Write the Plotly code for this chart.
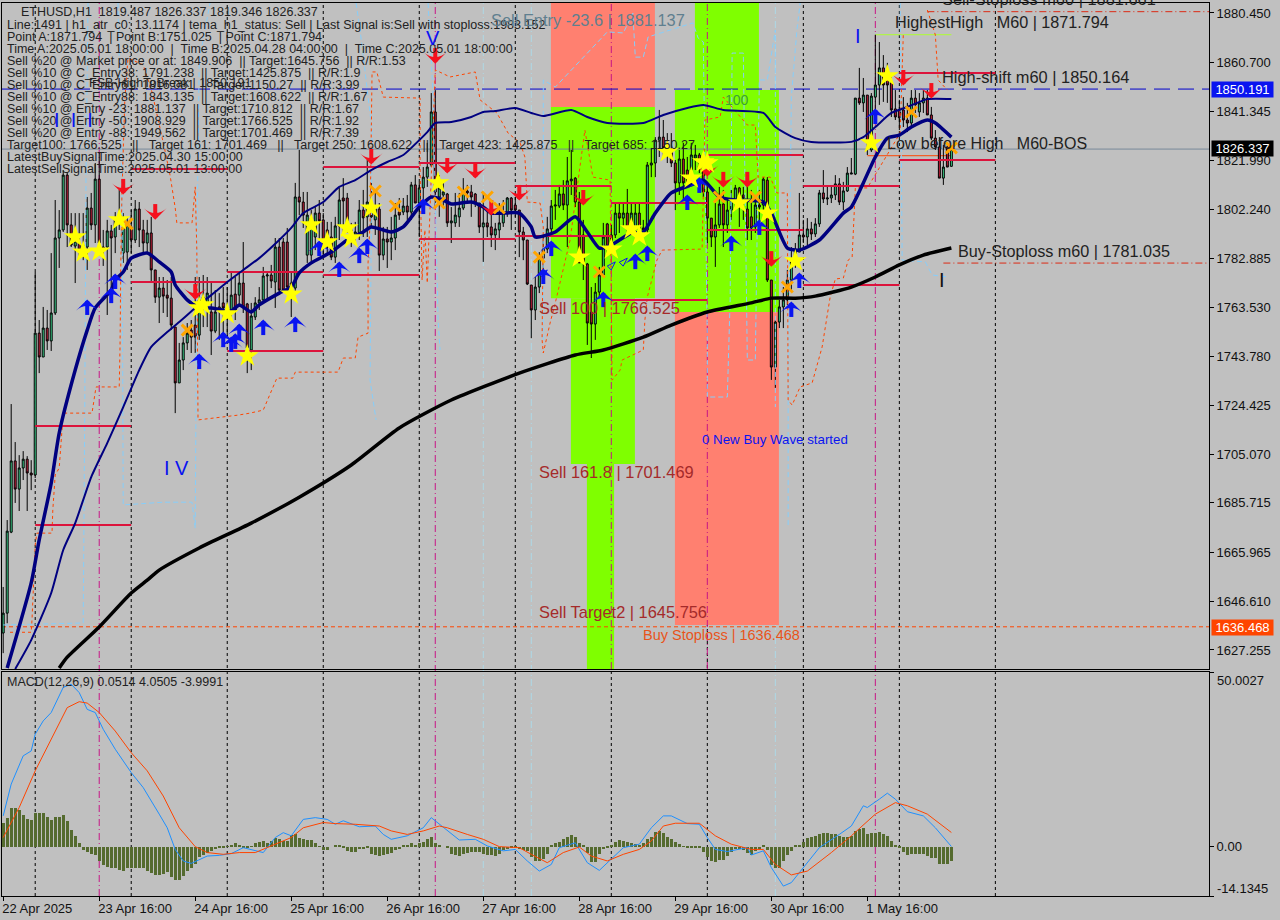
import plotly.graph_objects as go

# candles, one per hour, oldest first
opens = [1634.0,1641.9,1674.1,1702.4,1691.2,1699.6,1703.1,1697.6,1696.8,1753.2,
1743.7,1755.2,1750.1,1761.2,1791.0,1794.2,1816.0,1796.2,1787.8,1789.0,
1787.4,1787.4,1802.9,1796.2,1814.4,1787.4,1787.4,1793.8,1791.4,1799.0,
1785.0,1785.4,1795.4,1790.2,1802.5,1794.2,1789.0,1793.0,1778.3,1767.5,
1771.1,1768.3,1767.1,1755.6,1733.4,1742.5,1749.3,1754.4,1756.4,1752.4,
1767.5,1765.2,1761.6,1754.0,1763.6,1765.2,1763.2,1762.4,1768.7,1768.3,
1773.1,1764.8,1746.5,1759.6,1765.2,1766.4,1775.9,1776.3,1773.5,1787.4,
1789.4,1789.4,1773.1,1771.1,1807.3,1805.3,1784.2,1784.2,1791.4,1800.9,
1798.2,1794.2,1791.4,1783.4,1795.8,1806.9,1806.9,1794.2,1791.4,1793.0,
1802.1,1799.4,1802.9,1798.2,1802.5,1784.2,1790.6,1789.4,1791.0,1801.3,
1801.3,1803.7,1801.3,1812.1,1804.9,1810.9,1815.2,1820.0,1841.1,1807.3,
1808.1,1808.5,1797.0,1797.0,1799.4,1802.9,1809.7,1809.3,1808.5,1804.9,
1795.4,1797.0,1795.4,1792.2,1794.2,1797.0,1800.9,1806.9,1804.1,1802.1,
1793.4,1790.2,1772.3,1762.4,1771.5,1783.0,1786.6,1794.6,1803.7,1803.7,
1808.5,1804.1,1813.7,1814.8,1805.3,1792.2,1780.7,1761.6,1756.8,1769.5,
1776.3,1796.6,1792.2,1792.2,1800.9,1798.9,1800.9,1795.4,1795.4,1800.9,
1795.0,1794.2,1820.0,1820.8,1829.9,1831.1,1826.8,1825.2,1820.8,1812.9,
1822.4,1818.0,1818.0,1822.8,1824.0,1820.0,1809.3,1798.9,1791.4,1796.2,
1804.5,1796.2,1802.1,1806.1,1810.9,1808.1,1802.5,1799.4,1795.4,1804.1,
1804.1,1814.0,1774.3,1739.7,1757.6,1763.6,1766.4,1774.3,1781.5,1785.4,
1792.2,1791.4,1794.6,1792.6,1796.6,1808.9,1806.5,1806.9,1808.1,1812.5,
1805.3,1809.7,1816.4,1816.4,1846.6,1844.7,1847.8,1826.0,1847.0,1851.8,
1858.6,1857.8,1853.0,1842.3,1841.9,1841.9,1837.9,1836.7,1846.6,1841.1,
1844.7,1846.6,1839.9,1830.7,1827.2,1814.8,1827.2,1819.487]
highs = [1652.3,1678.9,1725.0,1709.9,1704.7,1706.3,1704.3,1702.7,1777.5,1758.4,
1763.6,1762.4,1785.0,1806.1,1802.1,1818.0,1817.2,1800.9,1800.9,1800.9,
1800.9,1807.3,1808.9,1820.8,1824.8,1794.2,1798.2,1796.2,1801.3,1810.1,
1800.9,1798.9,1802.1,1806.1,1805.3,1798.2,1798.2,1799.4,1778.3,1775.5,
1775.5,1774.3,1775.5,1755.6,1749.3,1751.6,1757.2,1758.4,1775.5,1775.5,
1776.3,1775.5,1773.1,1770.3,1769.1,1771.5,1771.5,1777.1,1775.5,1777.1,
1789.4,1765.2,1765.2,1767.5,1771.5,1779.5,1777.1,1780.3,1791.0,1791.0,
1791.0,1795.0,1777.1,1812.9,1826.0,1809.3,1809.3,1802.1,1803.3,1806.1,
1800.9,1797.4,1797.4,1799.4,1810.9,1814.8,1808.9,1797.0,1797.4,1806.1,
1810.1,1822.0,1812.9,1808.9,1804.9,1795.4,1795.4,1799.4,1804.9,1806.9,
1806.9,1808.1,1813.3,1816.0,1813.3,1819.2,1828.8,1848.6,1849.8,1816.0,
1812.9,1808.9,1803.3,1808.9,1808.9,1814.8,1812.1,1812.1,1808.9,1804.9,
1809.3,1802.1,1800.9,1797.0,1804.9,1806.1,1807.3,1807.3,1807.3,1802.1,
1795.4,1790.2,1772.3,1775.5,1785.4,1791.4,1799.4,1806.1,1810.1,1812.1,
1814.0,1823.2,1826.0,1815.2,1809.3,1798.2,1781.1,1771.5,1773.1,1779.5,
1797.0,1797.0,1796.2,1804.9,1804.9,1804.9,1810.5,1804.9,1804.9,1804.9,
1798.2,1821.2,1826.8,1831.1,1841.9,1837.9,1832.7,1832.7,1822.0,1826.0,
1828.8,1823.2,1828.8,1828.0,1824.8,1823.2,1812.1,1798.9,1804.9,1811.3,
1810.1,1806.1,1810.1,1812.1,1811.3,1811.3,1812.9,1810.1,1807.3,1810.1,
1815.2,1815.2,1774.3,1758.4,1766.4,1771.5,1778.3,1787.4,1789.0,1808.9,
1798.2,1798.9,1797.4,1798.9,1810.1,1818.0,1811.3,1811.3,1816.0,1814.8,
1813.3,1819.2,1822.8,1846.6,1858.6,1854.6,1847.8,1848.6,1871.794,1868.9,
1863.7,1860.6,1856.6,1849.8,1845.9,1847.0,1844.7,1849.8,1849.8,1848.6,
1849.8,1849.8,1843.1,1833.9,1831.1,1828.0,1828.8,1826.337]
lows = [1626.0,1637.9,1673.7,1685.7,1682.5,1694.8,1682.5,1690.8,1695.6,1737.3,
1743.7,1746.5,1746.1,1760.4,1779.1,1793.4,1787.4,1787.4,1773.1,1783.4,
1782.2,1778.3,1794.2,1789.0,1785.0,1779.9,1760.4,1769.1,1785.0,1794.2,
1781.1,1778.3,1785.0,1789.0,1787.4,1785.0,1785.0,1773.1,1765.2,1757.2,
1761.2,1759.6,1754.4,1721.4,1733.4,1738.5,1746.5,1745.3,1745.3,1750.5,
1755.6,1755.6,1744.5,1753.2,1750.5,1751.6,1751.6,1759.6,1758.4,1763.6,
1761.2,1737.3,1738.5,1758.4,1762.4,1765.2,1766.4,1771.1,1763.2,1769.1,
1770.3,1769.1,1759.6,1768.3,1800.1,1795.0,1781.1,1781.1,1786.2,1790.2,
1784.2,1784.2,1782.2,1781.1,1790.2,1793.0,1793.0,1787.4,1788.2,1790.2,
1791.4,1791.4,1795.4,1792.2,1777.9,1782.2,1779.1,1782.2,1786.2,1798.2,
1800.1,1798.2,1798.2,1804.9,1791.4,1804.9,1811.3,1819.2,1803.3,1799.4,
1803.3,1795.4,1789.0,1795.4,1795.4,1802.1,1804.9,1799.4,1803.3,1793.0,
1781.5,1791.4,1787.4,1786.2,1790.2,1795.4,1799.4,1794.2,1799.4,1783.4,
1782.2,1772.3,1751.2,1758.4,1769.1,1775.5,1785.0,1791.4,1798.2,1802.9,
1802.1,1787.4,1808.1,1803.3,1781.1,1774.3,1748.5,1743.3,1750.5,1767.5,
1775.5,1785.0,1786.2,1791.0,1793.0,1795.4,1793.0,1794.2,1793.0,1793.0,
1791.4,1793.0,1815.2,1815.2,1823.2,1823.2,1820.8,1819.2,1802.1,1808.1,
1806.1,1810.9,1814.0,1818.0,1816.8,1807.3,1789.0,1787.4,1779.5,1795.0,
1787.4,1793.0,1798.2,1802.1,1795.4,1798.2,1790.2,1790.2,1793.0,1797.4,
1800.9,1773.5,1734.6,1731.4,1755.2,1755.2,1764.4,1770.3,1779.1,1785.4,
1789.0,1788.2,1790.2,1791.4,1795.4,1804.9,1804.1,1804.9,1806.1,1804.1,
1802.1,1809.3,1816.4,1816.0,1843.9,1841.1,1824.0,1825.2,1840.7,1843.9,
1845.1,1844.7,1839.1,1837.9,1833.9,1835.1,1833.1,1835.1,1840.7,1839.1,
1840.7,1839.9,1829.9,1826.0,1814.8,1812.1,1819.2,1819.346]
closes = [1641.9,1674.5,1702.4,1691.2,1699.6,1703.1,1697.6,1696.8,1753.2,1743.7,
1755.2,1750.1,1761.2,1791.0,1794.2,1816.0,1796.2,1788.2,1789.8,1786.2,
1788.2,1802.9,1796.2,1814.4,1789.0,1786.2,1793.8,1791.0,1798.2,1797.4,
1795.4,1796.2,1790.2,1802.5,1794.2,1789.0,1793.0,1778.3,1767.5,1771.1,
1767.9,1767.1,1756.4,1733.4,1742.5,1749.3,1753.2,1751.6,1751.6,1766.4,
1766.4,1769.1,1754.0,1761.6,1762.4,1763.2,1762.0,1768.3,1762.4,1773.1,
1763.6,1747.3,1760.0,1765.2,1766.4,1775.9,1776.3,1773.9,1787.4,1770.3,
1770.3,1771.5,1771.5,1807.3,1805.3,1800.1,1800.1,1798.9,1800.9,1797.8,
1787.0,1787.4,1783.4,1795.8,1806.1,1805.7,1794.2,1791.4,1793.4,1802.1,
1799.0,1805.3,1799.4,1802.9,1784.2,1790.6,1789.4,1791.0,1800.1,1800.1,
1803.7,1801.3,1812.1,1804.9,1810.9,1815.2,1819.2,1841.1,1809.3,1810.9,
1809.3,1797.0,1797.8,1800.1,1802.9,1809.3,1808.9,1807.3,1804.9,1795.4,
1797.0,1795.4,1792.2,1794.6,1797.0,1800.9,1806.9,1802.1,1802.1,1793.4,
1790.2,1772.7,1762.4,1771.5,1783.0,1786.6,1794.6,1803.7,1804.1,1808.5,
1804.1,1813.7,1814.4,1805.3,1781.1,1781.1,1757.2,1756.8,1769.5,1776.3,
1791.4,1787.4,1787.4,1800.9,1798.9,1800.9,1795.0,1800.9,1800.9,1794.2,
1794.2,1820.0,1820.8,1829.9,1831.1,1826.8,1826.0,1820.8,1812.9,1822.4,
1812.9,1812.9,1824.0,1824.0,1820.8,1809.3,1798.9,1791.4,1796.2,1804.5,
1796.2,1802.1,1806.1,1810.9,1806.9,1806.9,1795.0,1795.0,1804.1,1803.3,
1814.4,1774.3,1739.7,1757.6,1763.6,1766.4,1774.3,1781.5,1786.2,1792.2,
1791.4,1794.6,1792.6,1796.6,1808.9,1806.5,1806.9,1808.1,1812.5,1805.3,
1809.7,1816.8,1816.8,1846.6,1844.7,1847.8,1828.8,1847.4,1851.8,1858.6,
1851.8,1851.8,1841.9,1839.1,1838.7,1837.9,1836.7,1846.6,1843.9,1844.7,
1846.6,1839.9,1830.7,1827.2,1814.8,1819.2,1819.2,1826.337]
bars = list(range(len(closes)))

# moving averages, read at the bends
fast_x = [1,7,9,12,14,18,21,23,27,28,30,32,36,39,42,43,46,49,52,57,59,62,64,69,72,74,77,82,86,90,92,97,100,104,107,110,112,117,120,122,125,129,132,133,138,143,146,149,152,157,160,163,167,172,175,179,183,190,192,196,199,204,210,212,215,218,221,224,227,231,233,237]
fast_y = [1620.1,1653.9,1671.0,1693.6,1713.5,1738.5,1754.4,1763.2,1770.3,1774.3,1777.5,1783.0,1785.0,1781.5,1777.5,1772.3,1766.4,1763.2,1763.2,1762.0,1764.4,1761.6,1764.4,1769.1,1771.5,1777.1,1781.1,1785.4,1790.2,1793.4,1795.4,1793.4,1795.4,1803.3,1807.3,1806.1,1804.5,1805.3,1803.3,1800.9,1800.9,1800.9,1795.4,1791.4,1793.4,1799.4,1793.4,1787.0,1788.2,1793.0,1793.4,1800.9,1808.9,1812.1,1814.0,1807.3,1806.1,1805.3,1800.9,1787.0,1786.2,1790.2,1800.9,1803.3,1812.9,1823.2,1830.7,1831.9,1835.1,1837.9,1836.7,1831.1]
mid_x = [3,7,12,15,18,22,26,30,34,37,41,44,48,52,56,60,64,69,72,75,80,84,88,92,96,100,104,106,108,112,117,120,123,128,132,135,142,146,151,160,165,171,175,180,190,193,198,202,212,215,218,222,226,231,237]
mid_y = [1619.7,1631.2,1649.9,1667.0,1677.7,1696.0,1709.5,1723.8,1738.5,1747.7,1753.6,1757.6,1763.2,1768.3,1773.5,1778.3,1783.0,1790.2,1795.0,1800.9,1805.3,1811.3,1814.0,1818.0,1821.2,1824.0,1829.9,1833.1,1836.7,1837.1,1839.1,1841.1,1841.5,1842.7,1840.7,1839.5,1841.9,1839.1,1836.7,1836.7,1839.9,1842.7,1843.9,1841.9,1840.7,1835.1,1830.7,1829.2,1829.2,1831.1,1835.1,1840.7,1843.1,1846.2,1846.2]
slow_x = [14,16,24,32,36,39,49,62,74,87,99,112,129,143,150,160,167,176,187,192,198,203,212,218,224,230,237]
slow_y = [1620.1,1624.4,1636.4,1649.9,1655.0,1659.0,1667.8,1677.7,1688.0,1700.8,1715.5,1726.6,1737.3,1744.5,1746.5,1751.6,1756.4,1761.6,1765.2,1767.1,1767.1,1767.9,1771.5,1775.5,1780.3,1784.2,1787.0]

# step channels, dashed
orange_x = [1.7,7,7.2,8,8.4,12.2,12.4,13,14,14.7,15,22.2,23.2,29,29.2,29.4,29.7,30.4,31.2,35,37.2,40.4,41.7,43,43.4,47.2,48,48.4,48.7,58.7,61.7,65,68.4,72.4,73,83.7,85,88,88.7,91.2,91.2,91.7,92,92.2,93.4,95,104.2,104.2,104.7,105.4,106,108,111.7,118,119.2,123.4,126.2,129.2,130.4,131,134.2,135,134.7,135,136.7,138,141.7,145.4,147.4,151.7,152.2,154.2,154.7,157.2,160,160.4,161,163.4,164.7,174.7,175.4,179.2,180,186,188,188.7,191.7,193.4,196,196.2,197.2,199.2,202.2,204.7,206.7,208,210,211.2,212.2,213,216,224.2,225,None,231,233,233.7,236]
orange_y = [1634.3,1634.3,1639.2,1669.0,1673.7,1673.7,1682.9,1696.8,1699.6,1714.7,1721.4,1721.4,1731.8,1731.8,1747.7,1781.1,1810.1,1845.9,1862.5,1859.8,1849.0,1826.0,1816.0,1802.9,1797.0,1797.0,1811.3,1786.2,1718.7,1720.6,1721.4,1722.6,1735.3,1735.3,1737.7,1737.7,1743.3,1743.3,1751.6,1753.2,1781.1,1797.0,1829.9,1857.0,1857.0,1847.0,1846.6,1819.2,1774.3,1794.2,1773.1,1857.8,1855.0,1857.0,1845.9,1840.7,1832.7,1828.8,1823.2,1805.3,1804.9,1795.4,1750.5,1745.3,1757.2,1765.2,1790.2,1833.9,1815.2,1814.0,1734.5,1738.5,1742.5,1744.5,1746.5,1758.4,1767.5,1782.2,1786.2,1786.6,1837.9,1839.1,1847.0,1835.9,1835.9,1815.2,1815.2,1808.9,1808.9,1726.6,1724.6,1731.8,1733.4,1747.7,1767.5,1774.7,1775.1,1782.2,1783.4,1810.9,1810.9,1832.7,1872.5,None,1881.6,1871.7,1853.8,1849.8]
sky_x = [0,20,20.4,20.7,21.2,None,28.7,29.7,30,36.7,40,47.2,48,48.4,48.7,49,51.7,None,88.2,89.2,92.2,91.7,93.2,None,106.2,107.4,108.7,109.2,None,135,135,138,151,155,157.4,158,160,161.2,172.4,173.7,175,176,176,181,181.7,182.2,185,186,188,189,191,193,193,None,196.2,196.2,197,198.4,199.2,None,224.2,224.7,230.5,232.2,236.2]
sky_y = [1637.2,1638.0,1726.6,1816.8,1884.4,None,1884.4,1810.1,1684.9,1685.7,1686.0,1686.0,1675.7,1786.2,1830.0,1861.7,1884.4,None,1884.4,1873.7,1833.9,1734.5,1718.7,None,1884.4,1849.8,1758.4,1746.5,None,1750.5,1853.8,1851.0,1872.9,1872.5,1880.4,1862.9,1862.9,1870.9,1876.5,1870.5,1868.9,1750.5,1727.8,1727.8,1766.4,1864.5,1864.5,1742.5,1742.5,1853.8,1853.8,1873.7,1723.8,None,1676.9,1723.8,1847.0,1873.7,1884.4,None,1884.4,1782.2,1781.5,1776.3,1775.5]

# crimson level segments, one per day block
seg_start = [8,8,32,32,56,56,80,80,104,104,128,128,152,152,176,176,200,200,224,224]
seg_end = [32,32,56,56,80,80,104,104,128,128,152,152,176,176,200,200,224,224,248,248]
seg_price = [1716.3,1676.9,1818.4,1773.5,1777.5,1746.1,1819.2,1776.3,1820.8,1790.6,1811.7,1791.8,1804.9,1766.4,1824.0,1794.2,1811.7,1772.3,1856.6,1822.0]

# signal markers
star_x = [18,20,24,29,49,50,56,61,72,77,81,86,87,92,108.7,144,152,157,159,166,172,175,176,184,191,198,221,217]
star_y = [1791.4,1785.4,1785.8,1798.2,1763.2,1764.4,1760.8,1744.1,1768.7,1796.2,1789.4,1795.0,1791.0,1802.9,1812.9,1783.4,1786.6,1794.6,1791.8,1825.2,1814.8,1821.2,1820.8,1804.9,1800.9,1781.9,1855.4,1828.8]
cross_x = [31,46,93,98,109,115,121,124,134,149,179,188,196,227,237]
cross_y = [1796.6,1754.4,1809.7,1803.7,1804.9,1809.3,1807.3,1802.9,1783.4,1777.5,1807.3,1807.3,1771.5,1841.1,1826.8]
up_x = [21,27,28,49,55,57,58,59,65,73,79,84,89,91,105,137,135,150,158,161,171,174,182,189,197,199,218]
up_y = [1764.0,1768.7,1774.3,1742.5,1751.2,1749.3,1750.5,1754.4,1756.0,1757.2,1787.4,1779.1,1784.6,1788.2,1804.1,1787.4,1776.3,1767.1,1782.2,1785.4,1805.7,1812.5,1789.4,1795.8,1763.2,1774.7,1839.9]
hollow_x = [136,153,156]
hollow_y = [1778.3,1781.5,1783.0]
down_x = [30,38,48,92,108,111,118,122,129,145,176,180,186,192,225,232]
down_y = [1810.9,1800.9,1769.1,1822.8,1862.9,1819.2,1817.2,1802.5,1808.5,1806.5,1818.0,1813.7,1813.7,1782.2,1854.2,1849.0]

# price levels and coloured zones
fib_high = 1850.191
last_price = 1826.337
buy_stop = 1636.468
sell_stop = 1880.95
buy_stop_m60 = 1781.035
highest_high = 1871.794
low_before_high = 1823.7
salmon_zones = [(136.9, 162.9, 1843.1, 1884.4), (167.9, 193.9, 1637.2, 1761.6)]
green_zones = [(136.9, 162.9, 1767.1, 1843.1), (141.9, 157.9, 1701.2, 1767.1), (145.9, 152.7, 1619.7, 1701.2),
               (172.9, 188.9, 1849.8, 1884.4), (167.9, 193.9, 1761.6, 1849.8)]

# axis ticks
day_lines = [8, 32, 56, 80, 104, 128, 152, 176, 200, 224, 248]
magenta_both = [24, 108, 218]
magenta_main = [152, 176]
sky_both = [120, 132, 193]
price_ticks = [1880.45,1860.70,1841.345,1821.99,1802.24,1782.885,1763.53,1743.78,1724.425,1705.07,1685.715,1665.965,1646.61,1627.255]
price_labels = ["1880.450","1860.700","1841.345","1821.990","1802.240","1782.885","1763.530","1743.780","1724.425","1705.070","1685.715","1665.965","1646.610","1627.255"]
time_ticks = [0,24,48,72,96,120,144,168,192,216]
time_labels = ["22 Apr 2025","23 Apr 16:00","24 Apr 16:00","25 Apr 16:00","26 Apr 16:00","27 Apr 16:00","28 Apr 16:00","29 Apr 16:00","30 Apr 16:00","1 May 16:00"]

# MACD panel
macd_hist = [6.9,8.3,11.0,11.0,10.4,9.1,7.8,7.6,9.6,9.6,
9.6,8.5,7.5,8.6,8.6,9.0,7.2,4.7,3.1,1.1,
-1.0,-1.5,-2.2,-2.4,-4.1,-5.3,-5.8,-6.2,-6.2,-6.7,
-7.0,-6.2,-6.0,-6.0,-6.2,-6.2,-7.0,-7.6,-8.0,-8.0,
-7.9,-7.4,-8.7,-9.6,-9.6,-8.4,-7.0,-6.0,-4.9,-2.9,
-2.5,-1.7,-1.2,-0.8,-0.5,-0.3,-0.1,0.5,1.0,0.4,
-0.3,-0.3,0.05,0.9,1.4,1.6,1.0,1.6,2.6,2.1,
1.6,1.6,3.2,3.5,2.4,2.1,1.9,1.8,1.0,-0.1,
-1.0,-1.0,0.0,0.5,0.2,-0.3,-1.2,-1.5,-1.4,-0.8,
-0.6,-0.3,-2.2,-2.4,-2.7,-2.5,-2.2,-1.7,-1.1,-0.8,
0.2,0.2,1.1,0.5,1.1,1.4,2.1,2.9,1.1,0.5,
0.0,-0.3,-2.0,-2.5,-2.7,-2.2,-1.7,-1.4,-1.5,-1.5,
-2.0,-2.4,-2.5,-2.7,-2.2,-1.1,-0.8,-0.5,-0.3,-0.6,
-1.0,-1.2,-3.0,-4.1,-4.1,-3.6,-2.2,0.2,0.9,1.4,
2.3,2.9,3.2,2.8,1.1,0.2,-1.7,-4.3,-4.3,-2.0,
-0.8,-0.3,0.2,1.4,1.9,1.6,1.4,1.1,0.7,0.2,
0.9,2.1,2.9,4.2,4.4,3.8,2.9,2.1,1.4,0.7,
0.05,-0.5,-0.3,-0.3,-0.5,-1.5,-3.0,-4.1,-4.3,-3.8,
-3.8,-2.7,-1.4,-0.8,-0.6,-1.0,-1.7,-2.4,-1.2,-0.8,
0.2,-1.0,-5.3,-6.0,-6.0,-4.1,-2.5,-1.2,0.5,0.5,
1.3,2.6,2.9,3.1,3.5,3.8,3.8,3.5,3.5,3.1,
2.9,2.9,3.1,4.5,5.0,5.3,3.5,3.8,4.0,4.2,
3.5,3.1,1.6,0.2,-0.4,-1.5,-2.4,-2.0,-2.2,-2.2,
-2.0,-2.7,-3.3,-3.3,-4.9,-4.9,-4.9,-3.9991]
macd_x = [0,2,5,7,8,10,12,15,17,19,21,23,25,28,32,35,39,41,43,45,47,51,54,57,60,65,68,70,72,75,78,81,83,85,89,93,95,97,101,105,107,111,114,118,121,125,128,131,134,137,139,143,146,149,151,155,159,162,165,167,171,174,176,178,181,186,187,190,192,195,197,200,204,209,212,215,216,219,221,223,226,230,233,237]
macd_y = [8.8,17.9,26.0,27.4,32.2,36.0,38.4,45.6,46.5,44.1,39.3,38.4,33.6,27.9,21.2,16.9,9.3,5.4,-0.8,-4.1,-4.8,-2.7,-2.5,-2.0,-0.3,-1.7,2.6,4.0,3.1,7.8,8.3,7.8,6.4,7.4,5.7,5.9,3.5,2.1,3.1,5.4,8.3,4.5,1.9,2.1,0.2,-1.2,-0.8,-4.1,-7.0,-5.1,-0.3,1.1,-4.6,-6.8,-4.6,-0.3,0.7,5.4,8.8,8.8,6.6,6.4,2.6,-0.8,-1.4,-0.3,-2.4,-1.2,-6.0,-11.3,-10.3,-6.0,-0.3,3.5,5.9,11.7,11.2,13.6,15.3,13.6,10.0,8.8,5.4,0.0514]
signal_x = [0,4,8,12,16,19,21,24,28,32,36,40,44,48,51,55,59,63,67,72,75,80,83,88,94,97,101,105,109,111,116,120,124,129,132,136,140,144,147,151,155,159,162,165,168,174,178,182,187,190,193,197,201,207,212,218,223,226,231,237]
signal_y = [2.6,11.2,21.7,30.8,39.8,41.5,41.1,38.4,33.1,26.9,21.7,14.5,5.4,0.0,-1.7,-2.2,-1.7,-1.7,0.2,2.6,5.4,6.9,6.6,6.4,5.9,4.5,3.5,4.5,5.9,5.4,3.5,2.1,0.0,-0.3,-2.2,-4.6,-1.7,-0.1,-2.7,-4.1,-2.2,-0.8,1.6,5.9,6.7,6.7,3.1,0.7,-0.8,-0.8,-5.1,-8.1,-7.0,-1.7,3.1,9.3,12.6,11.7,9.3,4.0505]
macd_ticks = [50.0027, 0, -14.1345]

# extra blanks stand in for the wider bar glyph of the original font
info_lines = [
    "Line:1491 | h1_atr_c0: 13.1174 | tema_h1_status: Sell | Last Signal is:Sell with stoploss:1983.152",
    "Point A:1871.794  | Point B:1751.025  | Point C:1871.794",
    "Time A:2025.05.01 18:00:00  |  Time B:2025.04.28 04:00:00  |  Time C:2025.05.01 18:00:00",
    "Sell %20 @ Market price or at: 1849.906  || Target:1645.756  || R/R:1.53",
    "Sell %10 @ C_Entry38: 1791.238  || Target:1425.875  || R/R:1.9",
    "Sell %10 @ C_Entry61: 1816.081  || Target:1150.27  || R/R:3.99",
    "Sell %10 @ C_Entry88: 1843.135  || Target:1608.622  || R/R:1.67",
    "Sell %10 @ Entry -23: 1881.137  || Target:1710.812  || R/R:1.67",
    "Sell %20 @ Entry -50: 1908.929  || Target:1766.525  || R/R:1.92",
    "Sell %20 @ Entry -88: 1949.562  || Target:1701.469  || R/R:7.39",
    "Target100: 1766.525   ||   Target 161: 1701.469   ||   Target 250: 1608.622   ||   Target 423: 1425.875   ||   Target 685: 1150.27",
    "LatestBuySignalTime:2025.04.30 15:00:00",
    "LatestSellSignalTime:2025.05.01 13:00:00",
]

SILVER = "#c0c0c0"
FONT = "Liberation Sans"
PLOT_L, PLOT_R, PLOT_T, PLOT_B = 2, 1209, 3, 896
MAIN_BOTTOM, SUB_TOP = 669, 672
BLUE = "#0a14f0"
RED = "#f5101e"


def paper_x(px):
    return (px - PLOT_L) / (PLOT_R - PLOT_L)


def paper_y(py):
    return (PLOT_B - py) / (PLOT_B - PLOT_T)


def label(fig, px, py, text, size=16.4, color="#222222", anchor="left", **kw):
    # annotations carry 2px of padding, take it back off
    fig.add_annotation(x=paper_x(px - 2), y=paper_y(py), xref="paper", yref="paper", text=text,
                       showarrow=False, xanchor=anchor, yanchor="middle",
                       font=dict(family=FONT, size=size, color=color), **kw)


fig = go.Figure()

for x0, x1, y0, y1 in salmon_zones:
    fig.add_shape(type="rect", x0=x0, x1=x1, y0=y0, y1=y1, xref="x", yref="y", layer="below",
                  fillcolor="#ff8070", line_width=0)
for x0, x1, y0, y1 in green_zones:
    fig.add_shape(type="rect", x0=x0, x1=x1, y0=y0, y1=y1, xref="x", yref="y", layer="below",
                  fillcolor="#7fff00", line_width=0)

for d in day_lines:
    fig.add_shape(type="line", x0=d, x1=d, y0=0, y1=1, xref="x", yref="paper", layer="below",
                  line=dict(color="black", width=1, dash="3px,3px"))
for d in magenta_both:
    fig.add_shape(type="line", x0=d, x1=d, y0=0, y1=1, xref="x", yref="paper", layer="below",
                  line=dict(color="#c71585", width=1, dash="7px,3px,1px,3px"))
for d in magenta_main:
    fig.add_shape(type="line", x0=d, x1=d, y0=1619.7, y1=1884.4, xref="x", yref="y", layer="below",
                  line=dict(color="#c71585", width=1, dash="7px,3px,1px,3px"))
for d in sky_both:
    fig.add_shape(type="line", x0=d, x1=d, y0=0, y1=1, xref="x", yref="paper", layer="below",
                  line=dict(color="#add8e6", width=1, dash="7px,3px,1px,3px"))

# horizontal levels across the main panel
fig.add_shape(type="line", x0=-0.3, x1=301.4, y0=fib_high, y1=fib_high, xref="x", yref="y", layer="below",
              line=dict(color="#0000cd", width=1, dash="16px,8px"))
fig.add_shape(type="line", x0=-0.3, x1=301.4, y0=last_price, y1=last_price, xref="x", yref="y", layer="below",
              line=dict(color="#778899", width=1))
fig.add_shape(type="line", x0=-0.3, x1=301.4, y0=buy_stop, y1=buy_stop, xref="x", yref="y", layer="below",
              line=dict(color="#ff4500", width=1, dash="4px,3px"))
fig.add_shape(type="line", x0=231, x1=301.4, y0=sell_stop, y1=sell_stop, xref="x", yref="y", layer="below",
              line=dict(color="#dc2a14", width=1, dash="7px,3px,1px,3px"))
fig.add_shape(type="line", x0=235, x1=301.4, y0=buy_stop_m60, y1=buy_stop_m60, xref="x", yref="y", layer="below",
              line=dict(color="#dc2a14", width=1, dash="7px,3px,1px,3px"))
fig.add_shape(type="line", x0=218, x1=237, y0=highest_high, y1=highest_high, xref="x", yref="y", layer="below",
              line=dict(color="#adff2f", width=1))
fig.add_shape(type="line", x0=216, x1=237, y0=low_before_high, y1=low_before_high, xref="x", yref="y", layer="below",
              line=dict(color="#ff4500", width=1))

fig.add_trace(go.Scatter(x=sky_x, y=sky_y, mode="lines", line=dict(color="#87cefa", width=1, dash="5px,3px"),
                         connectgaps=False))
fig.add_trace(go.Scatter(x=orange_x, y=orange_y, mode="lines", line=dict(color="#ff4500", width=1, dash="3px,3px"),
                         connectgaps=False))

fig.add_trace(go.Candlestick(x=bars, open=opens, high=highs, low=lows, close=closes,
                             increasing=dict(fillcolor="#3cd08a", line=dict(color="black", width=1)),
                             decreasing=dict(fillcolor="#c8203c", line=dict(color="black", width=1)),
                             whiskerwidth=0))

seg_x = []
seg_y = []
for start, end, price in zip(seg_start, seg_end, seg_price):
    seg_x += [start, end, None]
    seg_y += [price, price, None]
fig.add_trace(go.Scatter(x=seg_x, y=seg_y, mode="lines", line=dict(color="#dc143c", width=2)))

fig.add_trace(go.Scatter(x=mid_x, y=mid_y, mode="lines", line=dict(color="#000080", width=2, shape="spline", smoothing=0.6)))
fig.add_trace(go.Scatter(x=fast_x, y=fast_y, mode="lines", line=dict(color="#000080", width=3.5, shape="spline", smoothing=0.6)))
fig.add_trace(go.Scatter(x=slow_x, y=slow_y, mode="lines", line=dict(color="black", width=3.5, shape="spline", smoothing=0.6)))

# arrows are a stem plus a head, the head symbol has its tip on the point
fig.add_trace(go.Scatter(x=up_x, y=[v - 0.8 for v in up_y], mode="markers",
                         marker=dict(symbol="line-ns", size=10, line=dict(width=4, color=BLUE))))
fig.add_trace(go.Scatter(x=up_x, y=[v + 2.6 for v in up_y], mode="markers",
                         marker=dict(symbol="arrow-wide", size=16, color=BLUE, line=dict(width=0))))
fig.add_trace(go.Scatter(x=hollow_x, y=hollow_y, mode="markers",
                         marker=dict(symbol="arrow-open", size=9, angle=45, color=BLUE, line=dict(width=1, color=BLUE))))
fig.add_trace(go.Scatter(x=down_x, y=[v + 0.8 for v in down_y], mode="markers",
                         marker=dict(symbol="line-ns", size=10, line=dict(width=4, color=RED))))
fig.add_trace(go.Scatter(x=down_x, y=[v - 2.6 for v in down_y], mode="markers",
                         marker=dict(symbol="arrow-wide", size=16, angle=180, color=RED, line=dict(width=0))))
fig.add_trace(go.Scatter(x=cross_x, y=cross_y, mode="markers",
                         marker=dict(symbol="x-thin", size=11, line=dict(width=3, color="#ffa500"))))
fig.add_trace(go.Scatter(x=star_x, y=star_y, mode="markers",
                         marker=dict(symbol="star", size=17, color="#ffff00", line=dict(width=0))))

fig.add_trace(go.Bar(x=bars, y=macd_hist, xaxis="x2", yaxis="y2", width=0.75,
                     marker=dict(color="#556b2f", line=dict(width=0))))
fig.add_trace(go.Scatter(x=macd_x, y=macd_y, xaxis="x2", yaxis="y2", mode="lines", line=dict(color="#1e90ff", width=1)))
fig.add_trace(go.Scatter(x=signal_x, y=signal_y, xaxis="x2", yaxis="y2", mode="lines", line=dict(color="#ff4500", width=1)))

# text block, upper left
small = 12.5
label(fig, 21, 12, "ETHUSD,H1  1819.487 1826.337 1819.346 1826.337", size=small)
for n, line in enumerate(info_lines):
    label(fig, 7, 25 + 12 * n, line, size=small)
label(fig, 89, 83, "FSB-HighToBreak | 1850.191", size=small)

label(fig, 491, 20, "Sell Entry -23.6 | 1881.137", color="#5f7f8f")
label(fig, 895, 22, "HighestHigh   M60 | 1871.794", size=16.2)
label(fig, 942, 77, "High-shift m60 | 1850.164")
label(fig, 887, 143, "Low before High   M60-BOS", size=16)
label(fig, 958, 251, "Buy-Stoploss m60 | 1781.035", size=16.2)
label(fig, 942, -1, "Sell-Stoploss m60 | 1881.661")
label(fig, 539, 308, "Sell 100 | 1766.525", color="#a52a2a")
label(fig, 539, 472, "Sell 161.8 | 1701.469", color="#a52a2a")
label(fig, 539, 612, "Sell Target2 | 1645.756", color="#a52a2a")
label(fig, 643, 635, "Buy Stoploss | 1636.468", size=14.5, color="#e8541a")
label(fig, 725, 100, "100", size=14, color="#3aa03a")
label(fig, 702, 439, "0 New Buy Wave started", size=13.3, color=BLUE)
label(fig, 164, 468, "I V", size=20, color=BLUE)
label(fig, 426, 38, "V", size=20, color=BLUE)
label(fig, 855, 36, "I", size=20, color=BLUE)
label(fig, 939, 280, "I", size=20, color="#111111")
label(fig, 54, 120, "I  I  I", size=20, color=BLUE)
label(fig, 7, 682, "MACD(12,26,9) 0.0514 4.0505 -3.9991", size=small)

# boxed last-value tags on the price scale
for py, text, bg in [(90, "1850.191", BLUE), (149, "1826.337", "#000000"), (627, "1636.468", "#ff4500")]:
    label(fig, 1213, py, text, size=13, color="white", bgcolor=bg, width=59, height=13, align="center")
label(fig, 1217, 680, "50.0027", size=13, color="#111111")
label(fig, 1217, 888, "-14.1345", size=13, color="#111111")

axis_line = dict(showline=True, linecolor="black", linewidth=1, mirror=True, showgrid=False, zeroline=False)
fig.update_layout(
    width=1280, height=920, autosize=False, showlegend=False, hovermode=False,
    paper_bgcolor=SILVER, plot_bgcolor=SILVER, bargap=0,
    margin=dict(l=PLOT_L, r=1280 - PLOT_R, t=PLOT_T, b=920 - PLOT_B, pad=0),
    font=dict(family=FONT, size=13, color="#111111"),
    xaxis=dict(range=[-0.3, 301.4], domain=[0, 1], anchor="y", rangeslider=dict(visible=False),
               showticklabels=False, ticks="", **axis_line),
    yaxis=dict(range=[1619.7, 1884.4], domain=[paper_y(MAIN_BOTTOM), 1], anchor="x", side="right",
               tickmode="array", tickvals=price_ticks, ticktext=price_labels,
               ticks="outside", ticklen=4, tickcolor="black", **axis_line),
    xaxis2=dict(range=[-0.3, 301.4], domain=[0, 1], anchor="y2", matches="x",
                tickmode="array", tickvals=time_ticks, ticktext=time_labels,
                ticks="outside", ticklen=4, tickcolor="black", ticklabelposition="outside right",
                ticklabelshift=-2, **axis_line),
    yaxis2=dict(range=[-14.1345, 50.0027], domain=[0, paper_y(SUB_TOP)], anchor="x2", side="right",
                tickmode="array", tickvals=macd_ticks, ticktext=["", "0.00", ""],
                ticks="outside", ticklen=4, tickcolor="black", **axis_line),
)

fig.write_html("out.html", config={"displayModeBar": False},
               post_script="document.body.style.margin='0';document.body.style.overflow='hidden';")
